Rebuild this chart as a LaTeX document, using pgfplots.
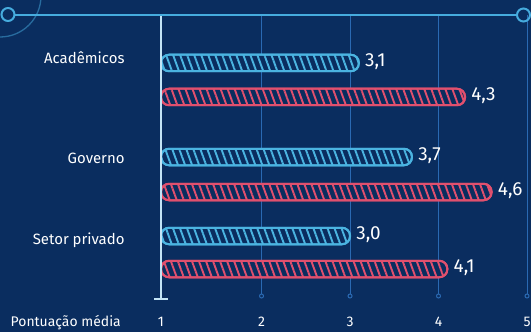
\documentclass[border=0pt]{standalone}
\usepackage{pgfplots}
\pgfplotsset{compat=1.18}
\usepackage{fontspec}
\setmainfont{Fira Sans}
\usetikzlibrary{patterns.meta}
\definecolor{bgc}{RGB}{10,45,95}
\definecolor{cyanc}{RGB}{75,180,225}
\definecolor{pinkc}{RGB}{225,80,110}
\definecolor{axisc}{RGB}{195,228,246}
\definecolor{gridc}{RGB}{42,105,178}
\definecolor{topc}{RGB}{70,172,222}
\begin{document}
\begin{tikzpicture}[x=1bp,y=1bp]
\useasboundingbox (0,0) rectangle (531,332);
\fill[bgc] (0,0) rectangle (531,332);
\draw[topc!50!bgc, line width=1.3bp] (0,336) circle (41);
\begin{axis}[
  at={(161bp,33bp)}, anchor=south west,
  scale only axis, width=366bp, height=284bp,
  xmin=0.864, xmax=5, ymin=33, ymax=317,
  clip mode=individual,
  axis line style={draw=none}, tick style={draw=none}, major tick length=0pt,
  /pgf/number format/assume math mode=true,
  xtick={0.864,2,3,4,5}, xticklabels={1,2,3,4,5},
  xticklabel style={anchor=base, yshift=-27.5bp, text=white, font=\fontsize{14}{16}\selectfont},
  ytick={88,169,268}, yticklabels={Setor privado,Governo,Acadêmicos},
  yticklabel style={anchor=base east, xshift=-33bp, text=white, font=\fontsize{15}{17}\selectfont},
  nodes near coords style={text=white, font=\fontsize{19}{21}\selectfont, xshift=2bp, yshift=1.5bp,
     /pgf/number format/.cd, fixed, fixed zerofill, precision=1, use comma},
]
\pgfplotsinvokeforeach{2,3,4,5}{
  \draw[gridc, line width=1bp] (axis cs:#1,317) -- (axis cs:#1,38);
  \draw[gridc, line width=1bp] (axis cs:#1,36) circle (2bp);
}
\addplot[xbar, bar shift=0pt, bar width=16.5bp, draw=cyanc, line width=2bp, fill=bgc,
  rounded corners=8bp,
  postaction={pattern={Lines[angle=-70,distance=6.6bp,line width=1.9bp]}, pattern color=cyanc},
  nodes near coords, point meta=x]
  coordinates {(3.1,269) (3.7,175) (3.0,96)};
\addplot[xbar, bar shift=0pt, bar width=16.5bp, draw=pinkc, line width=2bp, fill=bgc,
  rounded corners=8bp,
  postaction={pattern={Lines[angle=-70,distance=6.6bp,line width=1.9bp]}, pattern color=pinkc},
  nodes near coords, point meta=x]
  coordinates {(4.3,235) (4.6,140) (4.1,63)};
\end{axis}
\draw[axisc, line width=2.5bp] (161,317) -- (161,33);
\draw[axisc, line width=2.5bp] (154,33) -- (168,33);
\draw[topc, line width=2bp] (14.5,317) -- (517,317);
\draw[topc, line width=2bp] (8,317.5) circle (6.5);
\draw[topc, line width=2bp] (523.5,317) circle (6.5);
\node[anchor=base east, text=white, font=\fontsize{14}{16}\selectfont, inner sep=0pt] at (121,5.5) {Pontuação média};
\end{tikzpicture}
\end{document}
